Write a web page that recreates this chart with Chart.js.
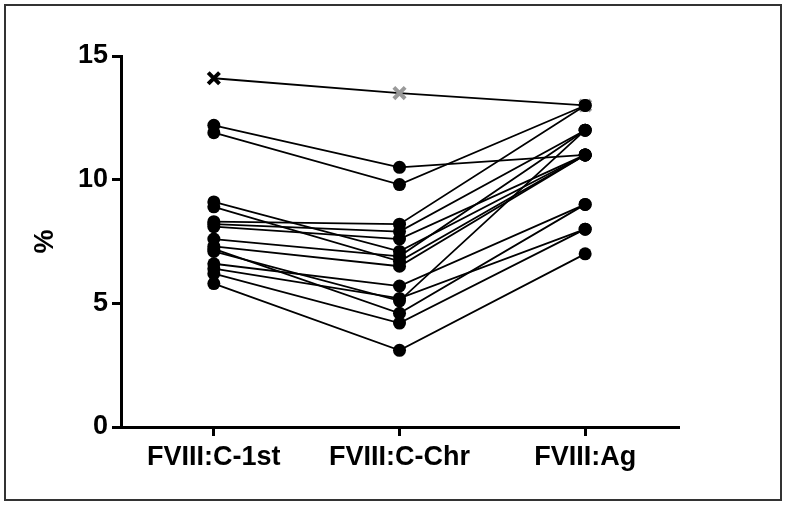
<!DOCTYPE html>
<html>
<head>
<meta charset="utf-8">
<script src="https://cdn.jsdelivr.net/npm/chart.js@4"></script>
<style>
  html, body { margin: 0; padding: 0; background: #fff; }
  #wrap { width: 787px; height: 506px; position: relative; }
</style>
</head>
<body>
<div id="wrap"><canvas id="c" width="787" height="506"></canvas></div>
<script>
const categories = ['FVIII:C-1st', 'FVIII:C-Chr', 'FVIII:Ag'];
const yTicks = [0, 5, 10, 15];
// one value per subject, same order in each list
const fviiiC1st = [12.2, 11.9, 9.1, 8.9, 8.3, 8.2, 8.1, 7.6, 7.3, 7.1, 6.6, 6.4, 7.2, 6.2, 5.8, 14.1];
const fviiiCChr = [10.5, 9.8, 7.1, 6.7, 8.2, 7.9, 7.6, 6.9, 6.5, 5.1, 5.7, 5.2, 4.6, 4.2, 3.1, 13.5];
const fviiiAg   = [11, 13, 11, 11, 13, 12, 11, 12, 11, 12, 9, 8, 9, 8, 7, 13];
const crossSubject = 15; // subject drawn with cross markers

const datasets = fviiiC1st.map((v, i) => {
  const isCross = i === crossSubject;
  return {
    data: [v, fviiiCChr[i], fviiiAg[i]],
    borderColor: '#000',
    borderWidth: 1.8,
    pointStyle: isCross ? 'crossRot' : 'circle',
    pointRadius: isCross ? 8 : 6.5,
    pointBackgroundColor: '#000',
    pointBorderColor: isCross ? ['#000', '#9a9a9a', '#9a9a9a'] : '#000',
    pointBorderWidth: isCross ? 4 : 0,
    tension: 0,
    fill: false
  };
});

const frame = {
  id: 'frame',
  beforeDraw(chart) {
    const ctx = chart.ctx;
    ctx.save();
    ctx.fillStyle = '#fff';
    ctx.fillRect(0, 0, chart.width, chart.height);
    ctx.strokeStyle = '#333';
    ctx.lineWidth = 2;
    ctx.strokeRect(5, 5, 776, 495);
    ctx.restore();
  }
};

const FONT = "'Liberation Sans', Arial, sans-serif";

new Chart(document.getElementById('c'), {
  type: 'line',
  data: { labels: categories, datasets },
  plugins: [frame],
  options: {
    responsive: false,
    animation: false,
    layout: { padding: { top: 56, right: 109, bottom: 0, left: 0 } },
    plugins: { legend: { display: false }, tooltip: { enabled: false } },
    scales: {
      x: {
        type: 'category',
        offset: true,
        afterFit(s) { s.height = 79; },
        grid: { display: true, drawOnChartArea: false, drawTicks: true, tickLength: 9, lineWidth: 3, color: '#000', offset: false },
        border: { display: true, width: 3, color: '#000' },
        ticks: { color: '#000', padding: 5, font: { family: FONT, size: 27, weight: 'bold' } }
      },
      y: {
        min: 0, max: 15,
        afterFit(s) { s.width = 121; },
        afterBuildTicks(s) { s.ticks = yTicks.map(v => ({ value: v })); },
        grid: { display: true, drawOnChartArea: false, drawTicks: true, tickLength: 9, lineWidth: 3, color: '#000' },
        border: { display: true, width: 3, color: '#000' },
        ticks: { color: '#000', padding: 4, font: { family: FONT, size: 27, weight: 'bold' } },
        title: { display: true, text: '%', color: '#000', padding: { top: 29, bottom: 0 }, font: { family: FONT, size: 27, weight: 'bold' } }
      }
    }
  }
});
</script>
</body>
</html>
